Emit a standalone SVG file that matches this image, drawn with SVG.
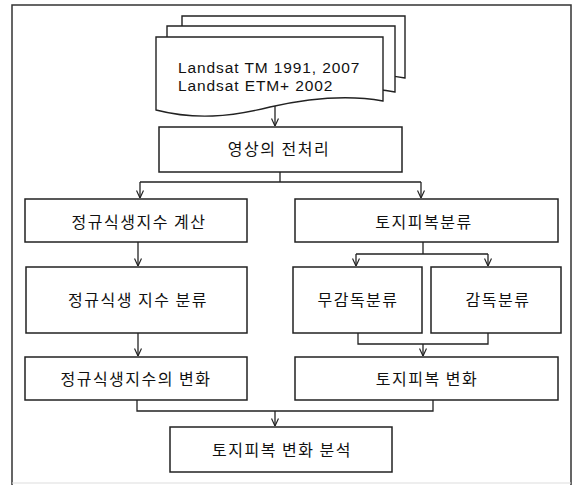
<svg xmlns="http://www.w3.org/2000/svg" width="580" height="485" viewBox="0 0 580 485">
<style>
.box{fill:#fff;stroke:#222;stroke-width:1.5}
.doc{fill:#fff;stroke:#222;stroke-width:1.4}
.frame{fill:none;stroke:#333;stroke-width:1.5}
.ko{font-family:"Noto Sans CJK KR","Noto Sans",sans-serif;font-size:16px;letter-spacing:1.5px;fill:#111;text-anchor:middle}
.en{font-family:"Liberation Sans",Arial,sans-serif;font-size:15.5px;letter-spacing:0.9px;fill:#111}
.con{fill:none;stroke:#222;stroke-width:1.3}
</style>
<defs>
<marker id="arr" viewBox="0 0 8 8" refX="8" refY="4" markerWidth="8" markerHeight="8" markerUnits="userSpaceOnUse" orient="auto">
<path d="M0.5,0.5 L8,4 L0.5,7.5" fill="none" stroke="#222" stroke-width="1.2"/>
</marker>
</defs>
<rect width="580" height="485" fill="#fff"/>
<path class="frame" d="M12,485 V5 H571 V485"/>
<line x1="12" y1="483" x2="571" y2="483" stroke="#ddd" stroke-width="1.2"/>

<g id="landsat">
<path class="doc" d="M182,16 H405 V78 C372,72 334,75 294,84 C254,94 220,97 182,87 Z"/>
<path class="doc" d="M167,26 H395 V92 C362,86 322,89 282,98 C242,108 207,111 167,101 Z"/>
<path class="doc" d="M156,37 H383 V101 C350,95 310,98 270,107 C230,117 195,120 156,110 Z"/>
<text class="en" x="178" y="73">Landsat TM 1991, 2007</text>
<text class="en" x="178" y="91">Landsat ETM+ 2002</text>
</g>

<g id="preprocess">
<rect class="box" x="159" y="127" width="243" height="45"/>
<text class="ko" x="279" y="155">영상의 전처리</text>
</g>
<g id="ndvi-calc">
<rect class="box" x="25" y="199" width="222" height="43"/>
<text class="ko" x="139" y="228">정규식생지수 계산</text>
</g>
<g id="landcover-class">
<rect class="box" x="295" y="199" width="263" height="43"/>
<text class="ko" x="424" y="228">토지피복분류</text>
</g>
<g id="ndvi-class">
<rect class="box" x="26" y="267" width="221" height="66"/>
<text class="ko" x="138" y="306">정규식생 지수 분류</text>
</g>
<g id="unsupervised">
<rect class="box" x="293" y="267" width="129" height="66"/>
<text class="ko" x="358" y="306">무감독분류</text>
</g>
<g id="supervised">
<rect class="box" x="431" y="267" width="130" height="66"/>
<text class="ko" x="498" y="306">감독분류</text>
</g>
<g id="ndvi-change">
<rect class="box" x="25" y="357" width="222" height="43"/>
<text class="ko" x="136" y="385">정규식생지수의 변화</text>
</g>
<g id="landcover-change">
<rect class="box" x="295" y="357" width="263" height="43"/>
<text class="ko" x="427" y="385">토지피복 변화</text>
</g>
<g id="analysis">
<rect class="box" x="170" y="427" width="222" height="45"/>
<text class="ko" x="282" y="456">토지피복 변화 분석</text>
</g>

<g id="connectors">
<path class="con" d="M275,106 V126" marker-end="url(#arr)"/>
<path class="con" d="M280,172 V182 M140,182 H421"/>
<path class="con" d="M140,182 V198" marker-end="url(#arr)"/>
<path class="con" d="M421,182 V198" marker-end="url(#arr)"/>
<path class="con" d="M138,242 V266" marker-end="url(#arr)"/>
<path class="con" d="M423,242 V254 M356,254 H488"/>
<path class="con" d="M356,254 V266" marker-end="url(#arr)"/>
<path class="con" d="M488,254 V266" marker-end="url(#arr)"/>
<path class="con" d="M138,333 V356" marker-end="url(#arr)"/>
<path class="con" d="M358,333 V344 H488 V333"/>
<path class="con" d="M423,344 V356" marker-end="url(#arr)"/>
<path class="con" d="M137,400 V411 H433 V400"/>
<path class="con" d="M275,411 V426" marker-end="url(#arr)"/>
</g>
</svg>
